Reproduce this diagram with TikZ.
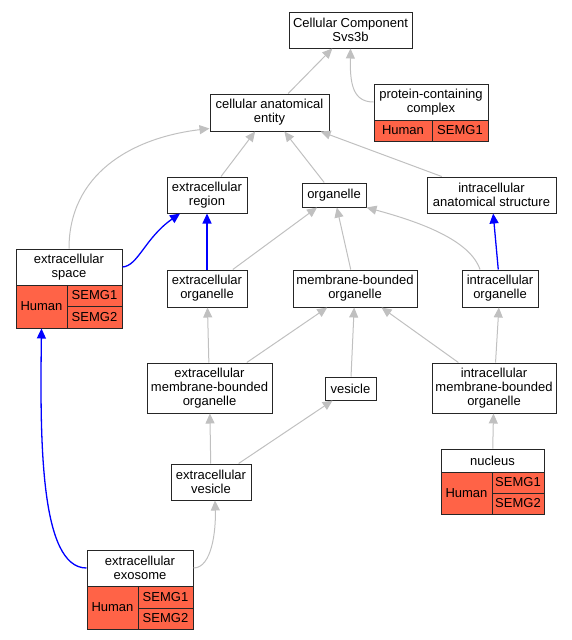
\documentclass[tikz,border=0pt]{standalone}
\usepackage{fontspec}
\setmainfont{Liberation Sans}
\usetikzlibrary{arrows.meta}
\definecolor{tomato}{HTML}{FF6347}
\definecolor{edgegray}{HTML}{C0C0C0}
\definecolor{edgeblue}{HTML}{0000FF}
\tikzset{>={Triangle[length=10pt,width=9pt]},
  term/.style={draw=black!85,line width=1pt,fill=white,align=center,inner sep=0pt,
    font=\fontsize{13}{14}\selectfont},
  hit/.style={term,fill=tomato},
  grayarrow/.style={->,draw=edgegray,line width=1pt},
  bluearrow/.style={->,draw=edgeblue,line width=1.3pt}}

\begin{document}
\begin{tikzpicture}[x=1pt,y=-1pt]
  \useasboundingbox (0,0) rectangle (572,640);

  % terms
  \node[term,minimum width=123,minimum height=36] (cc) at (350.5,30) {Cellular Component\\Svs3b};
  \node[term,minimum width=119,minimum height=37] (cae) at (269.5,112.5) {cellular anatomical\\entity};
  \node[term,minimum width=80,minimum height=36] (er) at (207,195) {extracellular\\region};
  \node[term,minimum width=64,minimum height=24] (org) at (334,195) {organelle};
  \node[term,minimum width=129,minimum height=36] (ias) at (491.5,195) {intracellular\\anatomical structure};
  \node[term,minimum width=80,minimum height=37] (eo) at (207,288.5) {extracellular\\organelle};
  \node[term,minimum width=124,minimum height=37] (mbo) at (355,288.5) {membrane-bounded\\organelle};
  \node[term,minimum width=76,minimum height=37] (io) at (500,288.5) {intracellular\\organelle};
  \node[term,minimum width=125,minimum height=50] (embo) at (209.5,388) {extracellular\\membrane-bounded\\organelle};
  \node[term,minimum width=51,minimum height=23] (ves) at (350.5,388.5) {vesicle};
  \node[term,minimum width=124,minimum height=50] (imbo) at (494,388) {intracellular\\membrane-bounded\\organelle};
  \node[term,minimum width=80,minimum height=36] (ev) at (211,482) {extracellular\\vesicle};

  % terms with annotations
  \node[term,minimum width=114,minimum height=36] (pcc) at (431,102) {protein-containing\\complex};
  \node[hit,minimum width=58,minimum height=21] (pcch) at (403,130.5) {Human};
  \node[hit,minimum width=56,minimum height=21] (pcc1) at (460,130.5) {SEMG1};

  \node[term,minimum width=106,minimum height=36] (es) at (69,267) {extracellular\\space};
  \node[hit,minimum width=51,minimum height=43] (esh) at (41.5,306.5) {Human};
  \node[hit,minimum width=55,minimum height=21] (es1) at (94.5,295.5) {SEMG1};
  \node[hit,minimum width=55,minimum height=22] (es2) at (94.5,317) {SEMG2};

  \node[term,minimum width=103,minimum height=23] (nuc) at (492.5,460.5) {nucleus};
  \node[hit,minimum width=51,minimum height=42] (nuch) at (466.5,493) {Human};
  \node[hit,minimum width=52,minimum height=21] (nuc1) at (518,482.5) {SEMG1};
  \node[hit,minimum width=52,minimum height=21] (nuc2) at (518,503.5) {SEMG2};

  \node[term,minimum width=106,minimum height=36] (exo) at (140,568) {extracellular\\exosome};
  \node[hit,minimum width=51,minimum height=43] (exoh) at (112.5,607.5) {Human};
  \node[hit,minimum width=55,minimum height=22] (exo1) at (165.5,597) {SEMG1};
  \node[hit,minimum width=55,minimum height=21] (exo2) at (165.5,618.5) {SEMG2};

  % edges
  \draw[grayarrow] (cae) -- (cc);
  \draw[grayarrow] (pcc.west) .. controls (352,102) and (350,82) .. (cc.south);
  \draw[grayarrow] (es.north) .. controls (69,175) and (130,138) .. ([yshift=3pt]cae.south west);
  \draw[grayarrow] (er) -- (cae);
  \draw[grayarrow] (org) -- (cae);
  \draw[grayarrow] (ias) -- (cae);
  \draw[bluearrow] (es.east) .. controls (138,266) and (145,238) .. ([xshift=-27pt]er.south);
  \draw[bluearrow] (eo.north) -- (er.south);
  \draw[grayarrow] (eo) -- (org);
  \draw[grayarrow] (mbo) -- (org);
  \draw[grayarrow] ([xshift=-20pt]io.north) .. controls (470,240) and (420,222) .. (org.south east);
  \draw[bluearrow] (io) -- (ias);
  \draw[grayarrow] (embo) -- (eo);
  \draw[grayarrow] (embo) -- (mbo);
  \draw[grayarrow] (ves) -- (mbo);
  \draw[grayarrow] (imbo) -- (mbo);
  \draw[grayarrow] (imbo) -- (io);
  \draw[grayarrow] (ev) -- (embo);
  \draw[grayarrow] (ev) -- (ves);
  \draw[grayarrow] (nuc) -- (imbo);
  \draw[grayarrow] (exo.east) .. controls (212,568) and (216,530) .. ([xshift=4pt]ev.south);
  \draw[bluearrow] (exo.west) .. controls (40,568) and (40,440) .. (esh.south);
\end{tikzpicture}
\end{document}
